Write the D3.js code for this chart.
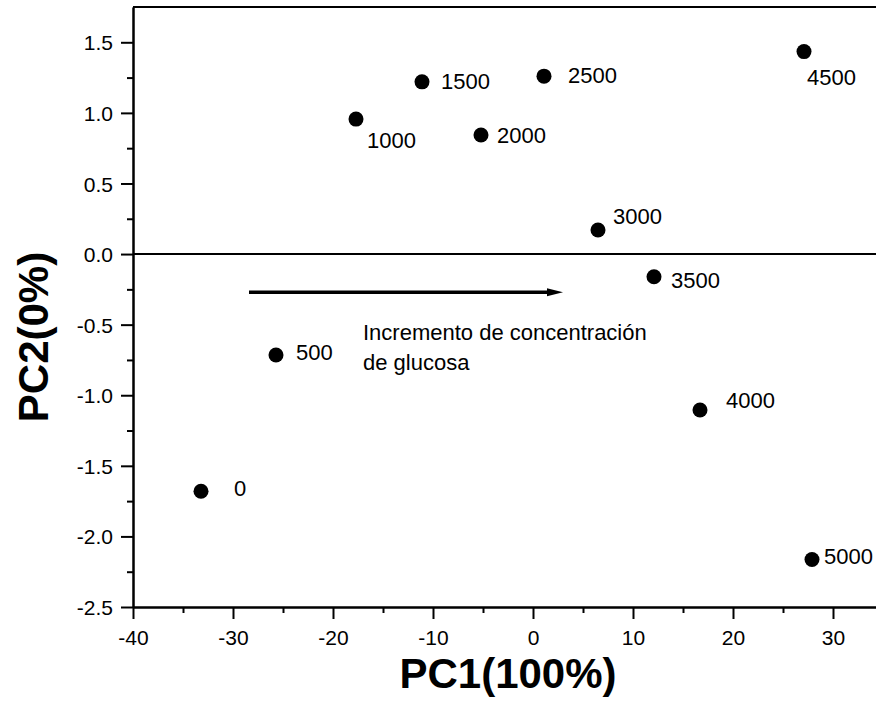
<!DOCTYPE html>
<html>
<head>
<meta charset="utf-8">
<script src="https://cdn.jsdelivr.net/npm/d3@7"></script>
<style>
  html, body { margin: 0; padding: 0; background: #fff; }
  svg { display: block; }
  text { font-family: "Liberation Sans", Arial, sans-serif; fill: #000; }
</style>
</head>
<body>
<svg id="chart" width="876" height="715"></svg>
<script>
// ---- data ----
const concentrations = ["0", "500", "1000", "1500", "2000", "2500", "3000", "3500", "4000", "4500", "5000"];
const pc1Values = [-33.2, -25.7, -17.7, -11.1, -5.2, 1.1, 6.5, 12.1, 16.7, 27.1, 27.9];
const pc2Values = [-1.68, -0.715, 0.956, 1.22, 0.843, 1.26, 0.17, -0.161, -1.105, 1.434, -2.164];
const xMajorTicks = [-40, -30, -20, -10, 0, 10, 20, 30];
const xMinorTicks = [-35, -25, -15, -5, 5, 15, 25, 35];
const yMajorTicks = [-2.5, -2.0, -1.5, -1.0, -0.5, 0.0, 0.5, 1.0, 1.5];
const yMinorTicks = [-2.25, -1.75, -1.25, -0.75, -0.25, 0.25, 0.75, 1.25];
const xTitle = "PC1(100%)";
const yTitle = "PC2(0%)";
const annotationLines = ["Incremento de concentración", "de glucosa"];
const arrowFrom = [-28.4, -0.27];
const arrowTo = [3.0, -0.27];
const annotationAt = [-17.0, -0.61];

// label offsets (px) relative to each point
const labelDx = [33, 20, 11, 19, 16, 24, 15, 17, 26, 3, 12];
const labelDy = [4.5, 5, 29, 7, 8, 7, -6, 11.5, -2, 33.5, 4.5];

// ---- layout ----
const svg = d3.select("#chart");
const W = 876;
const x = d3.scaleLinear().domain([-40, 35]).range([133, 883]);
const y = d3.scaleLinear().domain([-2.5, 1.75]).range([607, 7]);
const hyphen = f => v => f(v).replace("\u2212", "-");

// top frame line and zero line
svg.append("line").attr("x1", x(-40)).attr("x2", W).attr("y1", y(1.75)).attr("y2", y(1.75))
  .attr("stroke", "#000").attr("stroke-width", 2);
svg.append("line").attr("x1", x(-40)).attr("x2", W).attr("y1", y(0)).attr("y2", y(0))
  .attr("stroke", "#000").attr("stroke-width", 2);

// x axis
const gxMinor = svg.append("g").attr("transform", `translate(0,${y(-2.5)})`)
  .call(d3.axisBottom(x).tickValues(xMinorTicks).tickSize(6).tickSizeOuter(0).tickFormat(""));
const gx = svg.append("g").attr("transform", `translate(0,${y(-2.5)})`)
  .call(d3.axisBottom(x).tickValues(xMajorTicks).tickSize(12).tickSizeOuter(0).tickFormat(hyphen(d3.format("d"))));
gx.selectAll("text").attr("y", 38).attr("dy", null).attr("font-size", 21);

// y axis
const gyMinor = svg.append("g").attr("transform", `translate(${x(-40)},0)`)
  .call(d3.axisLeft(y).tickValues(yMinorTicks).tickSize(6).tickSizeOuter(0).tickFormat(""));
const gy = svg.append("g").attr("transform", `translate(${x(-40)},0)`)
  .call(d3.axisLeft(y).tickValues(yMajorTicks).tickSize(12).tickSizeOuter(0).tickFormat(hyphen(d3.format(".1f"))));
gy.selectAll("text").attr("x", -20).attr("dy", "0.36em").attr("font-size", 21);

[gxMinor, gx, gyMinor, gy].forEach(g => {
  g.selectAll("path.domain").attr("stroke", "#000").attr("stroke-width", 2);
  g.selectAll(".tick line").attr("stroke", "#000").attr("stroke-width", 2);
  g.attr("font-family", null).attr("font-size", null);
});

// arrow
svg.append("line")
  .attr("x1", x(arrowFrom[0])).attr("y1", y(arrowFrom[1]))
  .attr("x2", x(arrowTo[0]) - 14).attr("y2", y(arrowTo[1]))
  .attr("stroke", "#000").attr("stroke-width", 3.5);
svg.append("path")
  .attr("d", () => {
    const tx = x(arrowTo[0]), ty = y(arrowTo[1]);
    return `M${tx},${ty} L${tx - 16},${ty - 4} L${tx - 16},${ty + 4} Z`;
  })
  .attr("fill", "#000");

// annotation
const ann = svg.append("text")
  .attr("x", x(annotationAt[0])).attr("y", y(annotationAt[1]))
  .attr("font-size", 22);
annotationLines.forEach((t, i) => {
  ann.append("tspan").attr("x", x(annotationAt[0])).attr("dy", i === 0 ? 0 : 29.5).text(t);
});

// points
const pts = concentrations.map((c, i) => ({ c, px: pc1Values[i], py: pc2Values[i], dx: labelDx[i], dy: labelDy[i] }));
svg.append("g").selectAll("circle").data(pts).join("circle")
  .attr("cx", d => x(d.px)).attr("cy", d => y(d.py)).attr("r", 7.5).attr("fill", "#000");
svg.append("g").selectAll("text").data(pts).join("text")
  .attr("x", d => x(d.px) + d.dx).attr("y", d => y(d.py) + d.dy)
  .attr("font-size", 22).text(d => d.c);

// titles
svg.append("text").attr("x", 508).attr("y", 688).attr("text-anchor", "middle")
  .attr("font-size", 42).attr("font-weight", "bold").text(xTitle);
svg.append("text").attr("transform", `translate(48,337) rotate(-90)`).attr("text-anchor", "middle")
  .attr("font-size", 42).attr("font-weight", "bold").text(yTitle);
</script>
</body>
</html>
